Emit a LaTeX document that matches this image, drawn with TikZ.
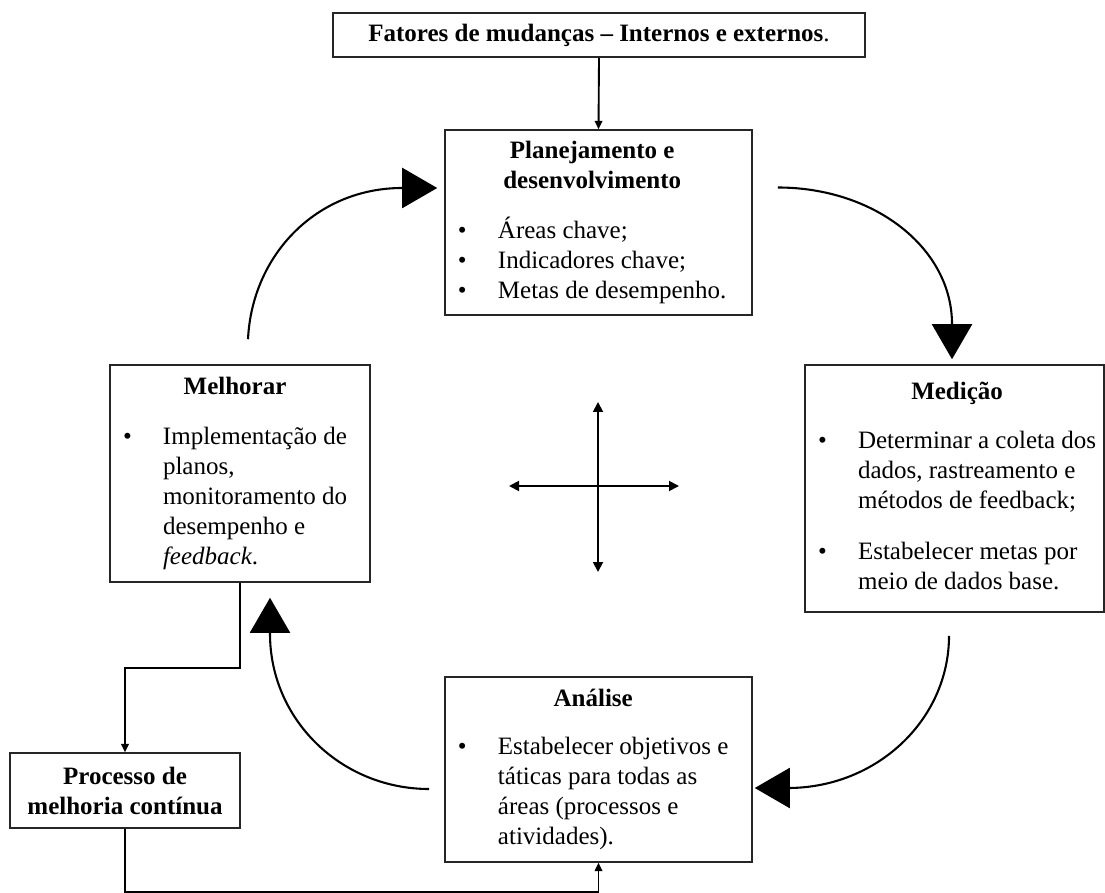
\documentclass[tikz,border=0pt]{standalone}
\usepackage{fontspec}
\setmainfont{Liberation Serif}
\usetikzlibrary{arrows.meta,positioning,calc}

% title row and bullet list used inside the boxes
\newcommand{\titulo}[1]{\multicolumn{2}{c}{\bfseries #1}}
\newcommand{\lista}[2]{\makebox[#1][l]{\begin{tabular}{@{}p{19.2pt}@{}l@{}}#2\end{tabular}}}

\begin{document}
\begin{tikzpicture}[x=0.48pt, y=-0.48pt,
  font=\fontsize{12}{14.4}\selectfont,
  caixa/.style={draw=black!85, line width=0.7pt, inner sep=0pt},
  seta/.style={-{Triangle[length=4pt,width=3.6pt]}, line width=0.9pt},
  cruz/.style={{Triangle[length=4.8pt,width=4.8pt]}-{Triangle[length=4.8pt,width=4.8pt]}, line width=0.9pt},
  setagrande/.style={-{Triangle[length=16.8pt,width=19.2pt]}, line width=1pt}]

\useasboundingbox (0,0) rectangle (1105,893);

% ================= BOXES =================
\node[caixa, minimum width=255.4pt, minimum height=21.1pt] (fatores) at (599,35)
{{\bfseries Fatores de mudanças – Internos e externos}.};

\node[caixa, minimum width=147.4pt, minimum height=88.8pt] (plan) at (598.5,222.5)
{\lista{134.9pt}{\titulo{Planejamento e}\\ \titulo{desenvolvimento}\\[9.2pt]
\textbullet & Áreas chave;\\
\textbullet & Indicadores chave;\\
\textbullet & Metas de desempenho.}};

\node[caixa, minimum width=143.5pt, minimum height=118.6pt] (med) at (954.5,488.5)
{\lista{131pt}{\titulo{Medição}\\[9.2pt]
\textbullet & Determinar a coleta dos\\
 & dados, rastreamento e\\
 & métodos de feedback;\\[10pt]
\textbullet & Estabelecer metas por\\
 & meio de dados base.}};

\node[caixa, minimum width=124.8pt, minimum height=104.2pt] (melh) at (240,473.5)
{\lista{112.3pt}{\titulo{Melhorar}\\[9.2pt]
\textbullet & Implementação de\\
 & planos,\\
 & monitoramento do\\
 & desempenho e\\
 & \textit{feedback}.}};

\node[caixa, minimum width=147.4pt, minimum height=88.8pt] (anal) at (598.5,769.5)
{\lista{134.9pt}{\titulo{Análise}\\[8.6pt]
\textbullet & Estabelecer objetivos e\\
 & táticas para todas as\\
 & áreas (processos e\\
 & atividades).}};

\node[caixa, minimum width=110.4pt, minimum height=36pt, align=center, font=\fontsize{12}{14.4}\selectfont\bfseries] (proc) at (125,790.5)
{Processo de\\melhoria contínua};

% ================= STRAIGHT CONNECTORS =================
\draw[seta] (fatores.south) -- (plan.north);
\draw[seta] (melh.south) -- ++(0,85) -| (proc.north);
\draw[seta] (proc.south) -- ++(0,63) -| (anal.south);

% ================= CYCLE ARROWS =================
\coordinate (pm0) at ($(plan.east)+(25,-35)$);
\coordinate (pm1) at ($(med.north)+(-2.5,-5)$);
\coordinate (ma0) at ($(med.south)+(-5.5,23)$);
\coordinate (ma1) at ($(anal.east)+(2,18.5)$);
\coordinate (am0) at ($(anal.west)+(-15,19.5)$);
\coordinate (am1) at ($(melh.south)+(30,15)$);
\coordinate (ml0) at ($(melh.north)+(8,-25)$);
\coordinate (ml1) at ($(plan.west)+(-7,-34.5)$);

\draw[setagrande] (pm0) .. controls +(97,0) and +(0,-76) .. ($(pm1)+(0,-35)$) -- (pm1);
\draw[setagrande] (ma0) .. controls +(0,84) and +(89,0) .. ($(ma1)+(33,0)$) -- (ma1);
\draw[setagrande] (am0) .. controls +(-88,0) and +(0,86) .. ($(am1)+(0,36)$) -- (am1);
\draw[setagrande] (ml0) .. controls +(4,-84) and +(-86,0) .. ($(ml1)+(-35,0)$) -- (ml1);

% ================= CROSS =================
\coordinate (centro) at (598,486);
\coordinate (c-n) at ($(centro)+(0,-84)$);
\coordinate (c-s) at ($(centro)+(0,86)$);
\coordinate (c-w) at ($(centro)+(-89,0)$);
\coordinate (c-e) at ($(centro)+(81,0)$);
\draw[cruz] (c-n) -- (c-s);
\draw[cruz] (c-w) -- (c-e);

\end{tikzpicture}
\end{document}
